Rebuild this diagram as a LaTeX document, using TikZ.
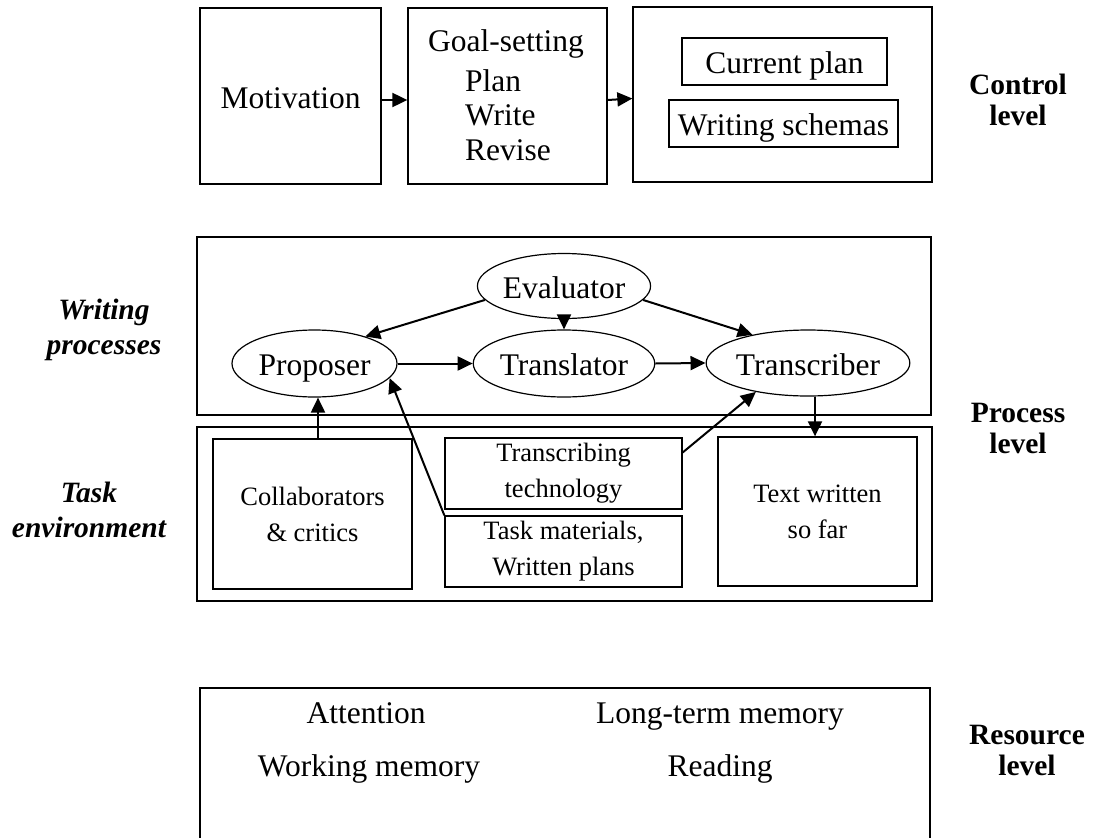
\documentclass[tikz,border=0pt]{standalone}
\usepackage{fontspec}
\setmainfont{Liberation Serif}
\usetikzlibrary{shapes.geometric,arrows.meta}
\tikzset{
  box/.style={draw=black,line width=1.3pt,rectangle,inner sep=0pt,align=center},
  ell/.style={draw=black,line width=1.2pt,ellipse,inner sep=0pt,text height=26pt,text depth=2pt,font=\fontsize{31.5}{36}\selectfont},
  big/.style={font=\fontsize{31.5}{34.5}\selectfont},
  bigt/.style={big,text height=26pt,text depth=2pt},
  small/.style={font=\fontsize{26.5}{36}\selectfont},
  lvl/.style={font=\fontsize{29.5}{31}\selectfont\bfseries,align=center},
  side/.style={font=\fontsize{29.5}{34.5}\selectfont\bfseries\itshape,align=center},
  arr/.style={line width=2pt,-{Triangle[length=15pt,width=14pt]}}
}
\begin{document}
\begin{tikzpicture}[x=1pt,y=-1pt]
\useasboundingbox (0,0) rectangle (1098,838);
% Control level
\node[box,bigt,minimum width=181pt,minimum height=176pt] (mot) at (290.5,96) {Motivation};
\node[box,minimum width=199pt,minimum height=176pt] (gs) at (507.5,96) {};
\node[big] (gst) at (506,44) {Goal-setting};
\node[big,align=left,anchor=west,inner sep=0pt] (gsl) at (465,115) {Plan\\Write\\Revise};
\node[box,minimum width=299pt,minimum height=175pt] (ctl) at (782.5,94.5) {};
\node[box,bigt,minimum width=205pt,minimum height=47pt] (cp) at (784.5,61.5) {Current plan};
\node[box,bigt,minimum width=229pt,minimum height=47pt] (ws) at (783.5,123.5) {Writing schemas};
\draw[arr] ([yshift=-4pt]mot.east) -- ([yshift=-4pt]gs.west);
\draw[arr] ([yshift=-4pt]gs.east) -- ([yshift=-4pt]ctl.west);
\node[lvl] (cl) at (1018,100) {Control\\level};
% Process level
\node[box,minimum width=734pt,minimum height=178pt] (proc) at (564,326) {};
\node[box,minimum width=735pt,minimum height=174pt] (env) at (564.5,514) {};
\node[ell,minimum width=164pt,minimum height=65pt] (ev) at (564,286) {Evaluator};
\node[ell,minimum width=165pt,minimum height=67pt] (prop) at (314.5,363.5) {Proposer};
\node[ell,minimum width=164pt,minimum height=67pt] (trl) at (564,363.5) {Translator};
\node[ell,minimum width=176pt,minimum height=66pt] (trs) at (808,363) {Transcriber};
\node[box,small,minimum width=199pt,minimum height=150pt] (col) at (312.5,514) {Collaborators\\\& critics};
\node[box,small,minimum width=237pt,minimum height=71pt] (tt) at (563.5,473.5) {Transcribing\\technology};
\node[box,small,minimum width=237pt,minimum height=71pt] (tm) at (563.5,551.5) {Task materials,\\Written plans};
\node[box,small,minimum width=199pt,minimum height=149pt] (tw) at (817.5,511.5) {Text written\\so far};
\draw[arr] (ev.190) -- (prop.28);
\draw[arr] (ev.south) -- (trl.north);
\draw[arr] (ev.-10) -- (trs.153);
\draw[arr] (prop.east) -- (trl.west);
\draw[arr] (trl.east) -- (trs.west);
\draw[arr] ([xshift=7pt]trs.south) -- ([xshift=-2.5pt]tw.north);
\draw[arr] ([xshift=5.5pt]col.north) -- ([xshift=3.5pt]prop.south);
\draw[arr] (tm.north west) -- (prop.-11.5);
\draw[arr] (tt.10) -- (trs.209);
\node[side] (wp) at (104,330) {Writing\\processes};
\node[side] (te) at (89,510) {Task\\environment};
\node[lvl] (pl) at (1018,428) {Process\\level};
% Resource level
\draw[line width=1.3pt] (200,845) -- (200,688) -- (930,688) -- (930,845);
\node[bigt] (att) at (366,711) {Attention};
\node[bigt] (ltm) at (720,711) {Long-term memory};
\node[bigt] (wm) at (369,764) {Working memory};
\node[bigt] (rd) at (720,764) {Reading};
\node[lvl] (rl) at (1027,750) {Resource\\level};
\end{tikzpicture}
\end{document}
